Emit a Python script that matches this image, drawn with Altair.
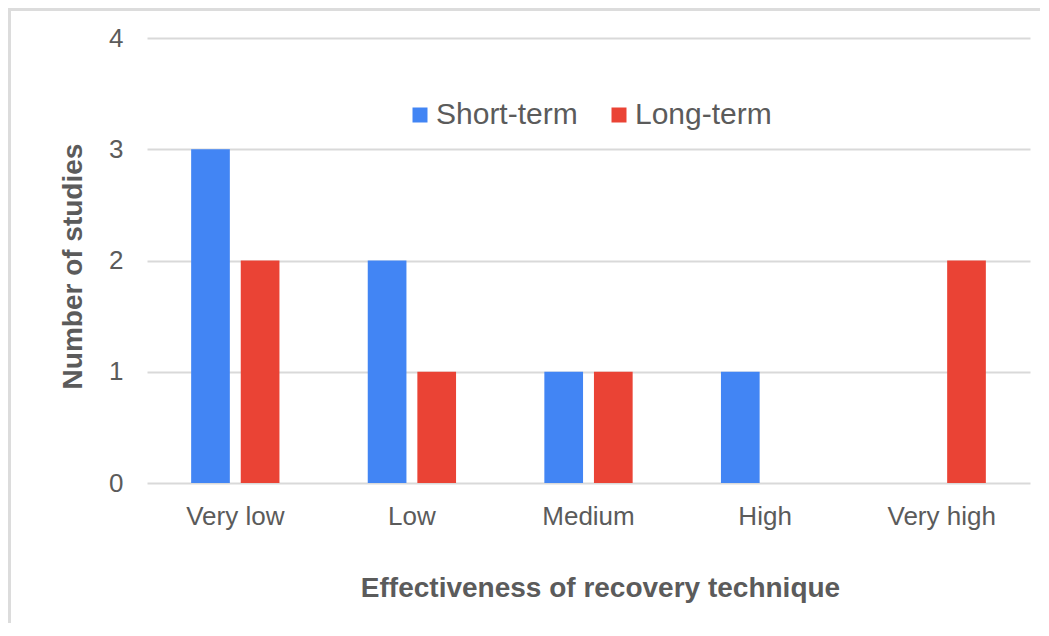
import altair as alt
import pandas as pd

categories = ["Very low", "Low", "Medium", "High", "Very high"]
short_term = [3, 2, 1, 1, 0]
long_term = [2, 1, 1, 0, 2]
series_names = ["Short-term", "Long-term"]
colors = ["#4285F4", "#EA4335"]

rows = []
for c, s, l in zip(categories, short_term, long_term):
    rows.append({"cat": c, "series": series_names[0], "value": s})
    rows.append({"cat": c, "series": series_names[1], "value": l})
df = pd.DataFrame(rows)

FONT = "Liberation Sans"
TXT = "#5b5b5b"

bars = alt.Chart(df).mark_bar(strokeWidth=0).encode(
    x=alt.X("cat:N", sort=categories,
            scale=alt.Scale(paddingInner=0.5, paddingOuter=0.25),
            axis=alt.Axis(title="Effectiveness of recovery technique", labelAngle=0,
                          labelFontSize=26, labelColor=TXT, labelFont=FONT,
                          labelPadding=20, ticks=False, domain=False, grid=False,
                          titleFontSize=28, titleFont=FONT, titleFontWeight="bold",
                          titleColor=TXT, titleX=453, titleY=113,
                          titleBaseline="alphabetic", titleAlign="center")),
    xOffset=alt.XOffset("series:N", sort=series_names,
                        scale=alt.Scale(paddingInner=0.22, paddingOuter=0)),
    y=alt.Y("value:Q", scale=alt.Scale(domain=[0, 4]),
            axis=alt.Axis(title="Number of studies", values=[0, 1, 2, 3, 4],
                          labelFontSize=26, labelColor=TXT, labelFont=FONT,
                          labelPadding=24, ticks=False, domain=False,
                          gridColor="#d9d9d9", gridWidth=2,
                          titleFontSize=28, titleFont=FONT, titleFontWeight="bold",
                          titleColor=TXT, titleX=-66, titleY=228,
                          titleBaseline="alphabetic", titleAlign="center")),
    color=alt.Color("series:N", sort=series_names,
                    scale=alt.Scale(domain=series_names, range=colors),
                    legend=alt.Legend(title=None, orient="none", direction="horizontal",
                                      legendX=258, legendY=62, symbolType="square",
                                      symbolSize=225, symbolStrokeWidth=0,
                                      labelFontSize=30, labelFont=FONT, labelColor=TXT,
                                      columnPadding=26, labelOffset=1, padding=0)),
)

one = pd.DataFrame({"a": [0]})
left_border = alt.Chart(one).mark_rule(color="#dcdcdc", strokeWidth=3).encode(
    x=alt.value(-137.5), y=alt.value(-30), y2=alt.value(600))
top_border = alt.Chart(one).mark_rule(color="#dcdcdc", strokeWidth=3).encode(
    y=alt.value(-28.5), x=alt.value(-139), x2=alt.value(900))

chart = alt.layer(left_border, top_border, bars).properties(
    width=883, height=445,
    background="white",
    autosize=alt.AutoSizeParams(type="none"),
    padding={"left": 139, "top": 30, "right": 10, "bottom": 140},
).configure_view(strokeWidth=0, stroke="transparent")

chart.save("out.html", embed_options={"renderer": "svg", "actions": False})
